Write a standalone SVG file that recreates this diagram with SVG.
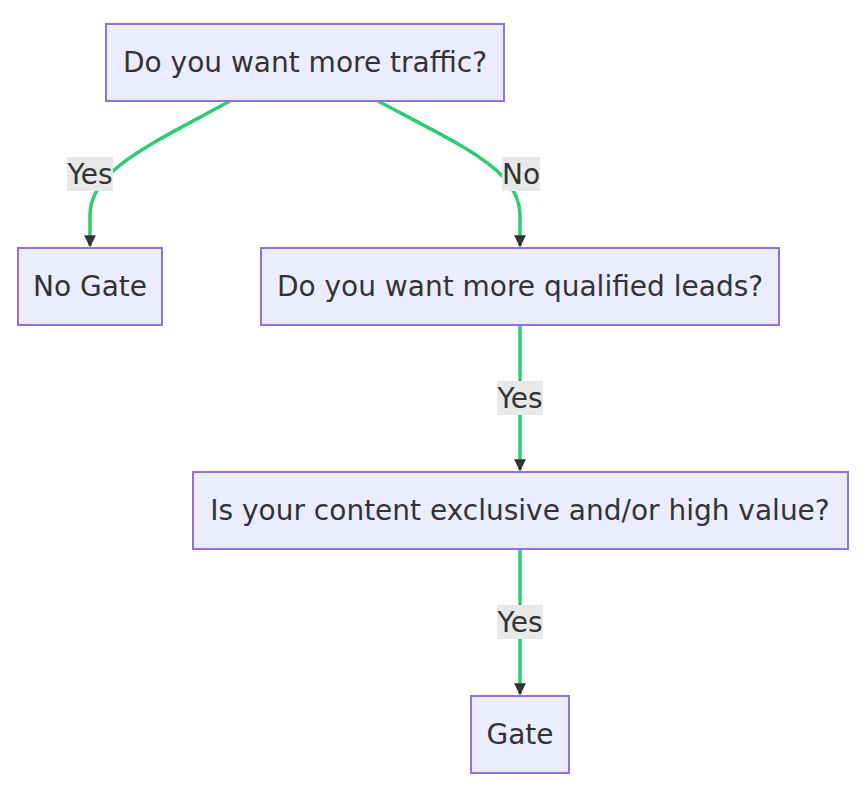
<svg xmlns="http://www.w3.org/2000/svg" width="868" height="787" viewBox="0 0 868 787">
<style>
.n rect{fill:#ECECFF;stroke:#9370DB;stroke-width:2}
text{font-family:"DejaVu Sans",sans-serif;font-size:28px;fill:#333;text-anchor:middle;dominant-baseline:central}
.e path{fill:none;stroke:#2ECC71;stroke-width:3.5}
.l rect{fill:#e8e8e8}
</style>
<defs><marker id="b" viewBox="0 0 10 10" refX="9" refY="5" markerWidth="12" markerHeight="12" orient="auto" markerUnits="userSpaceOnUse"><path d="M0,0L10,5L0,10z" fill="#333"/></marker></defs>
<rect width="868" height="787" fill="#fff"/>
<g class="e">
<path d="M230,101 C150,145 90,170 90,215 L90,246" marker-end="url(#b)"/>
<path d="M378,101 C460,145 520,170 520,215 L520,246" marker-end="url(#b)"/>
<path d="M520,325 L520,470" marker-end="url(#b)"/>
<path d="M520,549 L520,694" marker-end="url(#b)"/>
</g>
<g class="l">
<rect x="67" y="157" width="46" height="34"/><text x="90" y="174">Yes</text>
<rect x="502" y="157" width="38" height="34"/><text x="521" y="174">No</text>
<rect x="497" y="381" width="46" height="34"/><text x="520" y="398">Yes</text>
<rect x="497" y="605" width="46" height="34"/><text x="520" y="622">Yes</text>
</g>
<g class="n" id="n1"><rect x="106" y="24" width="398" height="77"/><text x="305" y="62">Do you want more traffic?</text></g>
<g class="n" id="n2"><rect x="18" y="248" width="144" height="77"/><text x="90" y="286">No Gate</text></g>
<g class="n" id="n3"><rect x="261" y="248" width="518" height="77"/><text x="520" y="286">Do you want more qualified leads?</text></g>
<g class="n" id="n4"><rect x="193" y="472" width="655" height="77"/><text x="520" y="510">Is your content exclusive and/or high value?</text></g>
<g class="n" id="n5"><rect x="471" y="696" width="98" height="77"/><text x="520" y="734">Gate</text></g>
</svg>
